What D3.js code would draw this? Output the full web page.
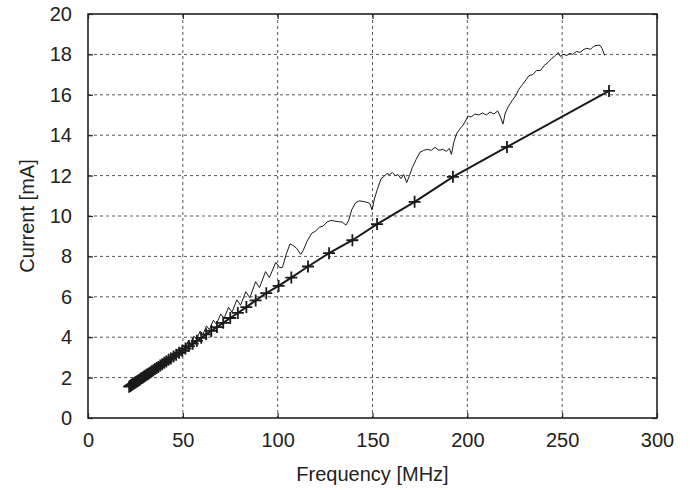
<!DOCTYPE html>
<html>
<head>
<meta charset="utf-8">
<script src="https://cdn.jsdelivr.net/npm/d3@7"></script>
<style>
  body { margin: 0; background: #fff; }
  text { font-family: "Liberation Sans", Arial, sans-serif; fill: #222; }
</style>
</head>
<body>
<div id="chart"></div>
<script>
// simulated values (+ markers)
const simFreq = [21.7, 22.1, 22.4, 22.8, 23.1, 23.5, 23.9, 24.3, 24.7, 25.1, 25.5, 26.0, 26.4, 26.9, 27.4,
  27.9, 28.5, 29.1, 29.6, 30.2, 30.9, 31.5, 32.2, 33.0, 33.7, 34.5, 35.3, 36.2, 37.1, 38.1, 39.1, 40.2,
  41.3, 42.5, 43.7, 45.1, 46.5, 48.0, 49.7, 51.4, 53.2, 55.2, 57.4, 59.7, 62.3, 65.0, 68.0, 71.3, 75.0,
  79.0, 83.5, 88.4, 94.0, 100.5, 107.2, 116.0, 127.1, 139.4, 152.4, 172.2, 192.4, 220.9, 274.7];
const simCurrent = [1.55, 1.58, 1.60, 1.62, 1.64, 1.67, 1.69, 1.72, 1.74, 1.77, 1.79, 1.82, 1.85, 1.88, 1.91,
  1.95, 1.98, 2.02, 2.05, 2.09, 2.14, 2.17, 2.22, 2.27, 2.32, 2.37, 2.42, 2.47, 2.53, 2.60, 2.66, 2.73,
  2.80, 2.88, 2.95, 3.04, 3.13, 3.23, 3.33, 3.44, 3.56, 3.68, 3.82, 3.97, 4.14, 4.31, 4.50, 4.71, 4.95,
  5.20, 5.49, 5.82, 6.18, 6.54, 6.95, 7.50, 8.16, 8.80, 9.60, 10.70, 11.94, 13.42, 16.19];

// measured values (thin line)
const measFreq = [21, 22, 22.8, 23.8, 24.6, 25.6, 26.4, 27.5, 28.3, 29.4, 30.2, 31.4, 32.2, 33.4, 34.3,
  35.5, 36.4, 37.7, 38.6, 39.9, 40.9, 42.3, 43.3, 44.8, 45.8, 47.3, 48.4, 50, 51.2, 52.9, 54.1, 55.9,
  57.2, 59.1, 60.5, 62.5, 64, 66.1, 67.7, 70, 71.7, 74.1, 75.9, 78.5, 80.4, 83.2, 85.3, 88.4, 90.4, 93.6,
  95.6, 99, 101, 102.5, 104.5, 106.5, 108, 110, 112.2, 113.5, 115.5, 118, 120, 122, 124, 126, 128, 130,
  132, 134, 136, 137.5, 139, 141, 143, 145, 147, 148.6, 149.8, 151, 152.5, 154.5, 156, 157.5, 159, 160.5,
  162, 163.5, 165, 166.5, 168, 169.5, 171, 173, 175, 177, 179, 181, 183, 185, 187, 189, 190.5, 191.6,
  193, 194.5, 196, 197.7, 199, 200.5, 202, 204, 206, 208, 210, 212, 214, 216, 217.5, 218.8, 220, 221.5,
  223.5, 225.5, 227, 229, 231, 232.5, 234.5, 236.5, 238.5, 240.5, 242.5, 244.5, 246.5, 248, 249, 250.5,
  252.5, 254, 255.5, 257.5, 259.5, 261.5, 263, 265, 266.5, 268.5, 270, 271, 272.4];
const measCurrent = [1.70, 1.80, 1.74, 1.88, 1.82, 1.97, 1.90, 2.07, 2.00, 2.18, 2.11, 2.30, 2.22, 2.43, 2.35,
  2.56, 2.48, 2.71, 2.62, 2.87, 2.77, 3.04, 2.93, 3.22, 3.10, 3.40, 3.27, 3.60, 3.46, 3.82, 3.67, 4.05,
  3.89, 4.30, 4.12, 4.56, 4.37, 4.84, 4.64, 5.15, 4.92, 5.48, 5.24, 5.85, 5.58, 6.25, 5.95, 6.75, 6.45, 7.25,
  6.95, 7.70, 7.45, 7.45, 8.10, 8.62, 8.55, 8.40, 8.10, 8.30, 8.75, 9.15, 9.25, 9.45, 9.50, 9.70, 9.78, 9.75,
  9.72, 9.70, 9.55, 9.80, 10.30, 10.65, 10.75, 10.72, 10.68, 10.62, 10.30, 10.85, 11.30, 11.85, 11.95, 12.10, 12.05, 12.15,
  12.00, 12.05, 11.85, 12.05, 11.65, 12.00, 12.40, 12.80, 13.15, 13.25, 13.30, 13.25, 13.40, 13.25, 13.30, 13.20, 13.35, 13.05,
  13.70, 14.10, 14.30, 14.50, 14.70, 14.95, 14.90, 15.05, 15.00, 15.10, 15.00, 15.15, 15.05, 15.20, 14.90, 14.55, 15.10, 15.40,
  15.70, 15.95, 16.25, 16.50, 16.75, 16.95, 17.00, 17.20, 17.20, 17.45, 17.60, 17.80, 17.95, 18.10, 17.90, 18.00,
  17.95, 18.05, 18.00, 18.15, 18.10, 18.25, 18.30, 18.25, 18.40, 18.45, 18.45, 18.30, 17.95];

const xTicks = [0, 50, 100, 150, 200, 250, 300];
const yTicks = [0, 2, 4, 6, 8, 10, 12, 14, 16, 18, 20];

const W = 690, H = 490;
const margin = { top: 14, right: 33, bottom: 72, left: 88 };
const width = W - margin.left - margin.right,
    height = H - margin.top - margin.bottom;

const svg = d3.select('#chart').append('svg')
    .attr('width', W)
    .attr('height', H);

const g = svg.append('g')
    .attr('transform', `translate(${margin.left},${margin.top})`);

const x = d3.scaleLinear().domain([0, 300]).range([0, width]);
const y = d3.scaleLinear().domain([0, 20]).range([height, 0]);

// dashed grid
g.append('g').selectAll('line')
    .data(xTicks.slice(1, -1))
    .enter().append('line')
    .attr('x1', d => x(d)).attr('x2', d => x(d))
    .attr('y1', 0).attr('y2', height)
    .attr('stroke', '#555').attr('stroke-dasharray', '3,3');
g.append('g').selectAll('line')
    .data(yTicks.slice(1, -1))
    .enter().append('line')
    .attr('y1', d => y(d)).attr('y2', d => y(d))
    .attr('x1', 0).attr('x2', width)
    .attr('stroke', '#555').attr('stroke-dasharray', '3,3');

// axes with inward ticks
const styleAxis = sel => {
    sel.select('.domain').remove();
    sel.selectAll('line').attr('stroke', '#222').attr('stroke-width', 1.2);
    sel.selectAll('text').attr('font-size', 20).attr('fill', '#222');
};
g.append('g').attr('transform', `translate(0,${height})`)
    .call(d3.axisBottom(x).tickValues(xTicks).tickSizeInner(-5).tickSizeOuter(0).tickPadding(15))
    .call(styleAxis);
g.append('g')
    .call(d3.axisTop(x).tickValues(xTicks).tickSizeInner(-5).tickSizeOuter(0).tickFormat(''))
    .call(styleAxis);
g.append('g')
    .call(d3.axisLeft(y).tickValues(yTicks).tickSizeInner(-5).tickSizeOuter(0).tickPadding(16))
    .call(styleAxis);
g.append('g').attr('transform', `translate(${width},0)`)
    .call(d3.axisRight(y).tickValues(yTicks).tickSizeInner(-5).tickSizeOuter(0).tickFormat(''))
    .call(styleAxis);

// frame
g.append('rect')
    .attr('width', width).attr('height', height)
    .attr('fill', 'none').attr('stroke', '#222').attr('stroke-width', 1.6);

// measured curve
const measured = measFreq.map((f, i) => [f, measCurrent[i]]);
g.append('path')
    .datum(measured)
    .attr('fill', 'none')
    .attr('stroke', '#1a1a1a')
    .attr('stroke-width', 1)
    .attr('d', d3.line().x(d => x(d[0])).y(d => y(d[1])));

// simulated line with + markers
const simulated = simFreq.map((f, i) => [f, simCurrent[i]]);
g.append('path')
    .datum(simulated)
    .attr('fill', 'none')
    .attr('stroke', '#1a1a1a')
    .attr('stroke-width', 2)
    .attr('d', d3.line().x(d => x(d[0])).y(d => y(d[1])));

g.append('g').selectAll('path')
    .data(simulated)
    .enter().append('path')
    .attr('transform', d => `translate(${x(d[0])},${y(d[1])})`)
    .attr('d', 'M-6,0H6M0,-6V6')
    .attr('stroke', '#1a1a1a')
    .attr('stroke-width', 1.8)
    .attr('fill', 'none');

// axis titles
svg.append('text')
    .attr('x', margin.left + width / 2)
    .attr('y', 481)
    .attr('text-anchor', 'middle')
    .attr('font-size', 20)
    .text('Frequency [MHz]');
svg.append('text')
    .attr('transform', `translate(34,${margin.top + height / 2}) rotate(-90)`)
    .attr('text-anchor', 'middle')
    .attr('font-size', 20)
    .text('Current [mA]');
</script>
</body>
</html>
